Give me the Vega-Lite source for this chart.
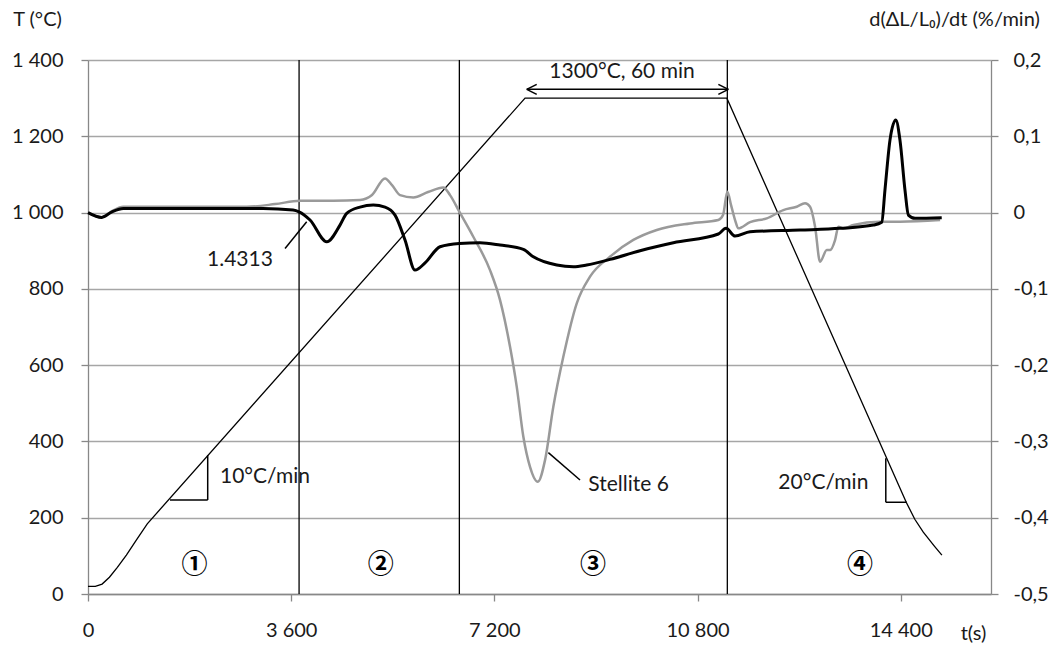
{
  "$schema": "https://vega.github.io/schema/vega-lite/v6.json",
  "width": 903,
  "height": 534,
  "autosize": {"type": "none"},
  "padding": {"left": 88, "top": 60, "right": 61, "bottom": 52},
  "background": "white",
  "config": {
    "view": {"stroke": null},
    "locale": {"number": {"decimal": ",", "thousands": " ", "grouping": [3], "currency": ["", ""], "minus": "-"}},
    "axis": {
      "labelFont": "Lato", "labelFontSize": 20, "labelColor": "#1a1a1a",
      "titleFont": "Lato", "titleFontSize": 20, "titleFontWeight": "normal", "titleColor": "#1a1a1a",
      "domainColor": "#888888", "tickColor": "#888888", "tickSize": 7, "domainWidth": 1.3, "tickWidth": 1.3,
      "labelFlush": false, "labelOverlap": false, "grid": false
    },
    "text": {"font": "Lato"}
  },
  "datasets": {
    "temp": [
      {"t": 0, "T": 20}, {"t": 130, "T": 20}, {"t": 250, "T": 26}, {"t": 380, "T": 44}, {"t": 520, "T": 70}, {"t": 680, "T": 102},
      {"t": 850, "T": 140}, {"t": 1050, "T": 184}, {"t": 7744, "T": 1300}, {"t": 11320, "T": 1300},
      {"t": 14500, "T": 240}, {"t": 14650, "T": 196}, {"t": 14800, "T": 162}, {"t": 15000, "T": 125}, {"t": 15130, "T": 102}
    ],
    "black": [
      {"t": 0, "r": 0}, {"t": 243, "r": -0.0063}, {"t": 425, "r": 0.001}, {"t": 626, "r": 0.0055}, {"t": 1985, "r": 0.0055},
      {"t": 3101, "r": 0.0055}, {"t": 3633, "r": 0.0033}, {"t": 3739, "r": 0.001}, {"t": 3934, "r": -0.0098}, {"t": 4230, "r": -0.0383},
      {"t": 4465, "r": -0.0164}, {"t": 4584, "r": -0.001}, {"t": 4820, "r": 0.0072}, {"t": 5055, "r": 0.0098}, {"t": 5263, "r": 0.0072},
      {"t": 5440, "r": -0.0033}, {"t": 5617, "r": -0.036}, {"t": 5794, "r": -0.0754}, {"t": 5972, "r": -0.066}, {"t": 6237, "r": -0.0448},
      {"t": 6579, "r": -0.0404}, {"t": 6946, "r": -0.0396}, {"t": 7301, "r": -0.0426}, {"t": 7714, "r": -0.0482}, {"t": 7891, "r": -0.058},
      {"t": 8306, "r": -0.0688}, {"t": 8600, "r": -0.0711}, {"t": 8837, "r": -0.0688}, {"t": 9250, "r": -0.0614}, {"t": 9781, "r": -0.05},
      {"t": 10372, "r": -0.0395}, {"t": 11169, "r": -0.0281}, {"t": 11305, "r": -0.0207}, {"t": 11465, "r": -0.0308}, {"t": 11731, "r": -0.0252},
      {"t": 12617, "r": -0.0229}, {"t": 13325, "r": -0.0207}, {"t": 13915, "r": -0.0164}, {"t": 14064, "r": -0.0127}, {"t": 14121, "r": 0.0295},
      {"t": 14210, "r": 0.095}, {"t": 14313, "r": 0.1213}, {"t": 14387, "r": 0.095}, {"t": 14476, "r": 0.0295}, {"t": 14536, "r": -0.0033},
      {"t": 14654, "r": -0.0076}, {"t": 15127, "r": -0.0068}
    ],
    "gray": [
      {"t": 0, "r": 0}, {"t": 243, "r": -0.0063}, {"t": 425, "r": 0.002}, {"t": 626, "r": 0.0077}, {"t": 1985, "r": 0.0077},
      {"t": 2812, "r": 0.0077}, {"t": 3314, "r": 0.0111}, {"t": 3757, "r": 0.0155}, {"t": 4347, "r": 0.0155}, {"t": 4820, "r": 0.0165},
      {"t": 5032, "r": 0.023}, {"t": 5263, "r": 0.0448}, {"t": 5387, "r": 0.036}, {"t": 5529, "r": 0.0229}, {"t": 5764, "r": 0.0199},
      {"t": 6025, "r": 0.0269}, {"t": 6296, "r": 0.033}, {"t": 6415, "r": 0.0229}, {"t": 6579, "r": 0.0012}, {"t": 6827, "r": -0.0317},
      {"t": 7123, "r": -0.0754}, {"t": 7301, "r": -0.1147}, {"t": 7478, "r": -0.1759}, {"t": 7597, "r": -0.2284}, {"t": 7714, "r": -0.2939},
      {"t": 7832, "r": -0.3333}, {"t": 7969, "r": -0.3529}, {"t": 8098, "r": -0.3245}, {"t": 8245, "r": -0.2546}, {"t": 8422, "r": -0.1891},
      {"t": 8660, "r": -0.1189}, {"t": 8895, "r": -0.084}, {"t": 9250, "r": -0.0578}, {"t": 9663, "r": -0.0359}, {"t": 10078, "r": -0.0228},
      {"t": 10667, "r": -0.0142}, {"t": 11169, "r": -0.0098}, {"t": 11252, "r": -0.0033}, {"t": 11328, "r": 0.0273}, {"t": 11394, "r": 0.0098},
      {"t": 11465, "r": -0.0098}, {"t": 11523, "r": -0.0207}, {"t": 11731, "r": -0.0125}, {"t": 12027, "r": -0.0076}, {"t": 12321, "r": 0.0033},
      {"t": 12558, "r": 0.0077}, {"t": 12705, "r": 0.0121}, {"t": 12794, "r": 0.0077}, {"t": 12883, "r": -0.0185}, {"t": 12971, "r": -0.0644},
      {"t": 13090, "r": -0.0491}, {"t": 13148, "r": -0.0491}, {"t": 13237, "r": -0.036}, {"t": 13296, "r": -0.0185}, {"t": 13384, "r": -0.0207},
      {"t": 13561, "r": -0.0164}, {"t": 14034, "r": -0.012}, {"t": 14389, "r": -0.012}, {"t": 15098, "r": -0.0098}
    ],
    "stages": [{"t": 3740}, {"t": 6580}, {"t": 11328}],
    "segs": [
      {"t": 3491, "T": 906, "t2": 3875, "T2": 976},
      {"t": 8157, "T": 370.5, "t2": 8718, "T2": 298.9},
      {"t": 1453, "T": 246.5, "t2": 2121, "T2": 246.5},
      {"t": 2121, "T": 246.5, "t2": 2121, "T2": 364},
      {"t": 14136, "T": 240.5, "t2": 14136, "T2": 356},
      {"t": 14136, "T": 240.5, "t2": 14507, "T2": 240.5},
      {"t": 7774, "T": 1323, "t2": 11346, "T2": 1323},
      {"t": 7774, "T": 1323, "t2": 7951, "T2": 1336},
      {"t": 7774, "T": 1323, "t2": 7951, "T2": 1310},
      {"t": 11346, "T": 1323, "t2": 11169, "T2": 1336},
      {"t": 11346, "T": 1323, "t2": 11169, "T2": 1310}
    ],
    "notes": [
      {"t": 2109, "T": 876, "label": "1.4313"},
      {"t": 8865, "T": 286, "label": "Stellite 6"},
      {"t": 8174, "T": 1369, "label": "1300°C, 60 min"},
      {"t": 2339, "T": 307, "label": "10°C/min"},
      {"t": 12232, "T": 292, "label": "20°C/min"}
    ],
    "zones": [
      {"t": 1885, "T": 76, "label": "①"},
      {"t": 5187, "T": 76, "label": "②"},
      {"t": 8949, "T": 76, "label": "③"},
      {"t": 13680, "T": 76, "label": "④"}
    ]
  },
  "layer": [
    {
      "layer": [
        {
          "data": {"name": "temp"},
          "mark": {"type": "line", "color": "black", "strokeWidth": 1.3},
          "encoding": {
            "x": {"field": "t", "type": "quantitative", "scale": {"domain": [0, 16000], "nice": false, "zero": false},
              "axis": {"values": [0, 3600, 7200, 10800, 14400], "format": ",d", "title": "t(s)", "titleX": 885, "titleY": 39,
                "titleAlign": "center", "titleBaseline": "middle", "labelPadding": 19}},
            "y": {"field": "T", "type": "quantitative", "scale": {"domain": [0, 1400], "nice": false},
              "axis": {"values": [0, 200, 400, 600, 800, 1000, 1200, 1400], "format": ",d", "grid": true, "gridColor": "#a6a6a6", "gridWidth": 1.3,
                "title": "T (°C)", "titleAngle": 0, "titleX": -51, "titleY": -41, "titleAlign": "center", "titleBaseline": "middle", "labelPadding": 18}}
          }
        },
        {
          "data": {"name": "stages"},
          "mark": {"type": "rule", "color": "black", "strokeWidth": 1.3},
          "encoding": {"x": {"field": "t", "type": "quantitative"}}
        },
        {
          "data": {"name": "segs"},
          "mark": {"type": "rule", "color": "black", "strokeWidth": 1.5},
          "encoding": {
            "x": {"field": "t", "type": "quantitative"}, "x2": {"field": "t2"},
            "y": {"field": "T", "type": "quantitative"}, "y2": {"field": "T2"}
          }
        },
        {
          "data": {"name": "notes"},
          "mark": {"type": "text", "align": "left", "baseline": "middle", "fontSize": 21, "color": "#1a1a1a"},
          "encoding": {
            "x": {"field": "t", "type": "quantitative"},
            "y": {"field": "T", "type": "quantitative"},
            "text": {"field": "label"}
          }
        },
        {
          "data": {"name": "zones"},
          "mark": {"type": "text", "align": "center", "baseline": "middle", "fontSize": 26, "font": "Noto Sans CJK JP", "fontWeight": "bold", "color": "black"},
          "encoding": {
            "x": {"field": "t", "type": "quantitative"},
            "y": {"field": "T", "type": "quantitative"},
            "text": {"field": "label"}
          }
        }
      ]
    },
    {
      "layer": [
        {
          "data": {"name": "gray"},
          "mark": {"type": "line", "color": "#9a9a9a", "strokeWidth": 2.5, "interpolate": "monotone"},
          "encoding": {
            "x": {"field": "t", "type": "quantitative"},
            "y": {"field": "r", "type": "quantitative", "scale": {"domain": [-0.5, 0.2], "nice": false, "zero": false},
              "axis": {"orient": "right", "values": [-0.5, -0.4, -0.3, -0.2, -0.1, 0, 0.1, 0.2], "format": ".1~f",
                "title": "d(ΔL/L₀)/dt (%/min)", "titleAngle": 0, "titleX": -37, "titleY": -41, "titleAlign": "center", "titleBaseline": "middle", "labelPadding": 15}}
          }
        },
        {
          "data": {"name": "black"},
          "mark": {"type": "line", "color": "black", "strokeWidth": 3, "interpolate": "monotone"},
          "encoding": {
            "x": {"field": "t", "type": "quantitative"},
            "y": {"field": "r", "type": "quantitative"}
          }
        }
      ]
    }
  ],
  "resolve": {"scale": {"y": "independent"}}
}
